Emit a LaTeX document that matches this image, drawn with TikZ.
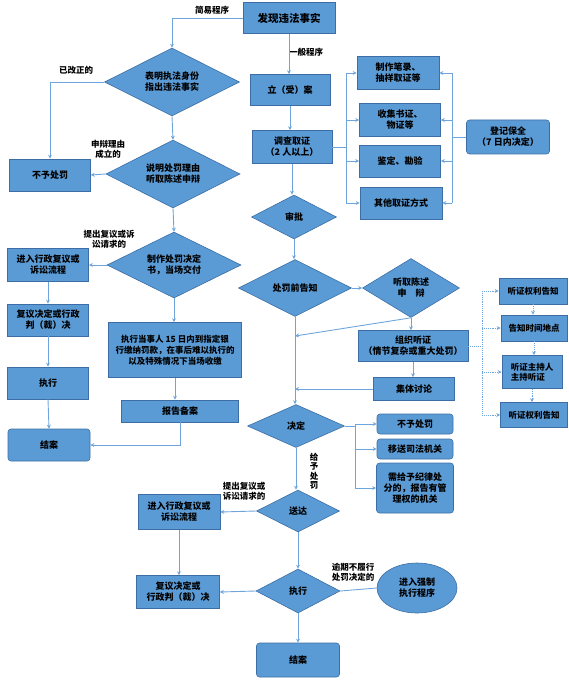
\documentclass[tikz,border=0pt]{standalone}
\usepackage{fontspec}
\setmainfont{Noto Sans CJK SC}
\usetikzlibrary{arrows.meta,shapes.geometric}
\definecolor{boxblue}{RGB}{91,155,213}
\definecolor{boxedge}{RGB}{60,110,165}
\definecolor{lineblue}{RGB}{110,165,220}

\begin{document}
\begin{tikzpicture}[x=1pt,y=-1pt,
  wh/.style 2 args={minimum width=#1pt,minimum height=#2pt},
  box/.style={draw=boxedge,fill=boxblue,line width=0.6pt,inner sep=1pt,align=center,font=\fontsize{9}{11}\selectfont\bfseries},
  rbox/.style={box,rounded corners=3pt},
  decision/.style={diamond,aspect=2,draw=boxedge,fill=boxblue,line width=0.6pt,inner sep=0pt,align=center,font=\fontsize{9}{11}\selectfont\bfseries},
  link/.style={draw=lineblue,line width=0.9pt},
  line/.style={link,-{Stealth[length=4pt,width=4pt]}},
  dotline/.style={link,densely dotted},
  dotarrow/.style={dotline,-{Stealth[length=4pt,width=4pt]}},
  lab/.style={align=center,font=\fontsize{8.5}{10}\selectfont\bfseries}]
\useasboundingbox (0,0) rectangle (568,687);

% Simple procedure (left)
\node[box,wh={92}{31},font=\fontsize{10.5}{12}\selectfont\bfseries] (fact) at (289,18) {发现违法事实};
\node[decision,wh={135}{68}] (idcheck) at (172,82) {表明执法身份\\指出违法事实};
\node[box,wh={81}{32}] (nopen1) at (50,175) {不予处罚};
\node[decision,wh={134}{68}] (hearA) at (173,174) {说明处罚理由\\听取陈述申辩};
\node[decision,wh={134}{66}] (ondecide) at (174,265) {制作处罚决定\\书，当场交付};
\node[box,wh={81}{33}] (review1) at (48,265) {进入行政复议或\\诉讼流程};
\node[box,wh={81}{32}] (judge1) at (48,320) {复议决定或行政\\判（裁）决};
\node[box,wh={81}{32}] (exec1) at (48,383) {执行};
\node[rbox,wh={82}{32}] (close1) at (49,445) {结案};
\node[box,wh={133}{55},font=\fontsize{8.5}{11}\selectfont\bfseries] (pay) at (175,350)
  {执行当事人 \textbf{15} 日内到指定银\\行缴纳罚款，在事后难以执行的\\以及特殊情况下当场收缴};
\node[box,wh={117}{22}] (record) at (180,411) {报告备案};

% General procedure (right)
\node[box,wh={80}{31}] (file) at (290,90) {立（受）案};
\node[box,wh={80}{33}] (survey) at (292,147) {调查取证\\（\textbf{2} 人以上）};
\node[box,wh={82}{33}] (ev1) at (398,73) {制作笔录、\\抽样取证等};
\node[box,wh={81}{33}] (ev2) at (400,120) {收集书证、\\物证等};
\node[box,wh={81}{32}] (ev3) at (400,161) {鉴定、勘验};
\node[box,wh={82}{32}] (ev4) at (401,203) {其他取证方式};
\node[rbox,wh={83}{34}] (preserve) at (508,137) {登记保全\\（\textbf{7} 日内决定）};
\node[decision,wh={85}{44}] (approve) at (294,217) {审批};
\node[decision,wh={113}{57}] (notice) at (295,288) {处罚前告知};
\node[decision,wh={97}{59}] (plea) at (411,288) {听取陈述\\申\quad 辩};
\node[box,wh={110}{31}] (hearing) at (413,346) {组织听证\\（情节复杂或重大处罚）};
\node[box,wh={81}{23}] (discuss) at (414,389) {集体讨论};

% Hearing steps
\node[box,wh={68}{26},font=\fontsize{8.5}{10}\selectfont\bfseries] (h1) at (533,291) {听证权利告知};
\node[box,wh={66}{26},font=\fontsize{8.5}{10}\selectfont\bfseries] (h2) at (534,328) {告知时间地点};
\node[box,wh={60}{33},font=\fontsize{8.5}{10}\selectfont\bfseries,align=left] (h3) at (532,372) {听证主持人\\主持听证};
\node[box,wh={67}{25},font=\fontsize{8.5}{10}\selectfont\bfseries] (h4) at (534,415) {听证权利告知};

% Decision and after
\node[decision,wh={97}{43}] (decide) at (296,426) {决定};
\node[rbox,wh={76}{20}] (nopen2) at (415,424) {不予处罚};
\node[rbox,wh={76}{20}] (judicial) at (415,449) {移送司法机关};
\node[rbox,wh={77}{50}] (discipline) at (415,488) {需给予纪律处\\分的，报告有管\\理权的机关};
\node[decision,wh={83}{42}] (deliver) at (298,511) {送达};
\node[box,wh={82}{35}] (review2) at (179,512) {进入行政复议或\\诉讼流程};
\node[box,wh={83}{33}] (judge2) at (178,592) {复议决定或\\行政判（裁）决};
\node[decision,wh={84}{44}] (exec2) at (298,591) {执行};
\node[ellipse,draw=boxedge,fill=boxblue,line width=0.6pt,inner sep=0pt,align=center,
  font=\fontsize{9}{11}\selectfont\bfseries,wh={80}{50}] (force) at (417,588) {进入强制\\执行程序};
\node[rbox,wh={83}{34}] (close2) at (298,660) {结案};

% Labels
\node[lab] (simple) at (212,10) {简易程序};
\node[lab] (general) at (306,52) {一般程序};
\node[lab] (fixed) at (76,70) {已改正的};
\node[lab] (valid) at (108,149) {申辩理由\\成立的};
\node[lab] (appeal1) at (109,239) {提出复议或诉\\讼请求的};
\node[lab,font=\fontsize{8.5}{9.5}\selectfont\bfseries] (punish) at (314,471) {给\\予\\处\\罚};
\node[lab] (appeal2) at (244,491) {提出复议或\\诉讼请求的};
\node[lab] (overdue) at (353,572) {逾期不履行\\处罚决定的};

% Bus points
\coordinate (busL) at (346,147);
\coordinate (busR) at (452,137);
\coordinate (busH) at (482,346);
\coordinate (busD) at (355,426);
\coordinate (joinA) at (295,336);

% Connectors, simple procedure
\draw[line] (fact.west) -| (idcheck.north);
\draw[line] (idcheck.west) -| (nopen1.north);
\draw[line] (idcheck.south) -- (hearA.north);
\draw[line] (hearA.west) -- (nopen1.east);
\draw[line] (hearA.south) -- (ondecide.north);
\draw[line] (ondecide.west) -- (review1.east);
\draw[line] (review1.south) -- (judge1.north);
\draw[line] (judge1.south) -- (exec1.north);
\draw[line] (exec1.south) -- (close1.north);
\draw[line] (ondecide.south) -- (ondecide.south |- pay.north);
\draw[line] (pay.south) -- (pay.south |- record.north);
\draw[line] (record.south) |- (close1.east);

% Connectors, general procedure
\draw[line] (fact.south) -- (fact.south |- file.north);
\draw[line] (file.south) -- (file.south |- survey.north);
\draw[link] (survey.east) -- (busL);
\draw[link] (busL |- ev1) -- (busL |- ev4);
\foreach \e in {ev1,ev2,ev3,ev4}
  \draw[line] (busL |- \e) -- (\e.west);
\draw[link] (preserve.west) -- (busR);
\draw[link] (busR |- ev1) -- (busR |- ev4);
\foreach \e in {ev1,ev2,ev3,ev4}
  \draw[line] (busR |- \e) -- (\e.east);
\draw[line] (survey.south) -- (survey.south |- approve.north);
\draw[line] (approve.south) -- (approve.south |- notice.north);
\draw[line] (notice.east) -- (plea.west);
\draw[line] (plea.south) -- (plea.south |- hearing.north);
\draw[line] (plea.south) -- (joinA);
\draw[line] (notice.south) -- (notice.south |- decide.north);
\draw[line] (hearing.south) -- (hearing.south |- discuss.north);
\draw[line] (discuss.west) -- (discuss.west -| notice.south);

% Hearing steps (dotted)
\draw[dotline] (hearing.east) -- (busH);
\draw[dotline] (busH |- h1) -- (busH |- h4);
\foreach \h in {h1,h2,h3,h4}
  \draw[dotarrow] (busH |- \h) -- (\h.west);
\draw[dotarrow] (h1.south) -- (h1.south |- h2.north);
\draw[dotarrow] (h2.south) -- (h2.south |- h3.north);
\draw[dotarrow] (h3.south) -- (h3.south |- h4.north);

% Connectors, decision and after
\draw[link] (decide.east) -- (busD);
\draw[link] (busD |- nopen2) -- (busD |- discipline);
\foreach \d in {nopen2,judicial,discipline}
  \draw[line] (busD |- \d) -- (\d.west);
\draw[line] (decide.south) -- (decide.south |- deliver.north);
\draw[line] (deliver.west) -- (review2.east);
\draw[line] (review2.south) -- (review2.south |- judge2.north);
\draw[line] (deliver.south) -- (deliver.south |- exec2.north);
\draw[line] (exec2.west) -- (judge2.east);
\draw[link] (exec2.east) -- (force.west);
\draw[line] (exec2.south) -- (exec2.south |- close2.north);
\end{tikzpicture}
\end{document}
